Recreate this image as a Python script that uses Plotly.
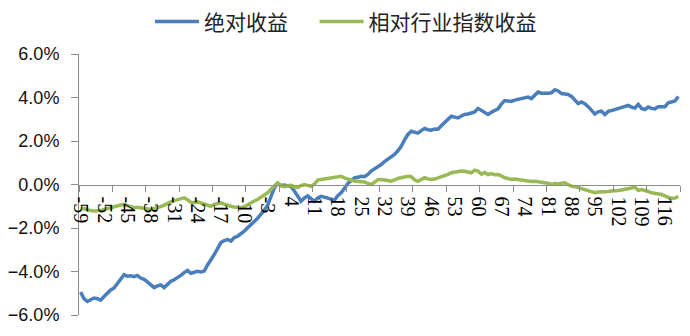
import plotly.graph_objects as go

days = list(range(-59, 121))

absolute_return = [
    -4.95, -5.25, -5.38, -5.32, -5.22, -5.25, -5.32, -5.15, -4.98, -4.85,
    -4.76, -4.55, -4.35, -4.15, -4.22, -4.20, -4.24, -4.18, -4.30, -4.36,
    -4.48, -4.60, -4.74, -4.66, -4.62, -4.74, -4.60, -4.45, -4.38, -4.30,
    -4.18, -4.05, -3.95, -4.08, -4.02, -3.99, -4.02, -3.98, -3.70, -3.48,
    -3.22, -2.95, -2.67, -2.58, -2.53, -2.60, -2.44, -2.38, -2.28, -2.15,
    -1.99, -1.82, -1.70, -1.55, -1.38, -1.18, -0.95, -0.50, -0.15, 0.05,
    -0.05, -0.02, -0.06, -0.10, -0.30, -0.55, -0.77, -0.62, -0.52, -0.65,
    -0.77, -0.62, -0.54, -0.58, -0.62, -0.66, -0.72, -0.52, -0.38, -0.18,
    0.05, 0.18, 0.30, 0.33, 0.38, 0.36, 0.46, 0.62, 0.72, 0.80,
    0.92, 1.05, 1.15, 1.26, 1.38, 1.55, 1.76, 2.05, 2.30, 2.45,
    2.42, 2.36, 2.48, 2.58, 2.52, 2.50, 2.55, 2.54, 2.70, 2.85,
    3.02, 3.14, 3.10, 3.06, 3.15, 3.22, 3.24, 3.30, 3.34, 3.50,
    3.40, 3.30, 3.22, 3.32, 3.42, 3.48, 3.70, 3.86, 3.84, 3.82,
    3.88, 3.92, 3.96, 3.98, 4.02, 3.95, 4.10, 4.25, 4.20, 4.18,
    4.20, 4.22, 4.36, 4.30, 4.18, 4.16, 4.14, 4.05, 3.88, 3.72,
    3.80, 3.72, 3.58, 3.38, 3.24, 3.34, 3.37, 3.22, 3.36, 3.40,
    3.45, 3.46, 3.53, 3.58, 3.64, 3.56, 3.52, 3.68, 3.50, 3.45,
    3.56, 3.50, 3.48, 3.58, 3.60, 3.58, 3.76, 3.82, 3.84, 4.05,
]

relative_return = [
    -1.07, -1.12, -1.15, -1.20, -1.22, -1.23, -1.20, -1.15, -1.10, -1.05,
    -1.00, -0.97, -0.94, -0.92, -0.98, -1.03, -1.07, -1.05, -1.08, -1.12,
    -1.13, -1.15, -1.10, -1.07, -1.02, -0.95, -0.86, -0.80, -0.74, -0.69,
    -0.64, -0.61, -0.70, -0.82, -0.84, -0.80, -0.85, -0.90, -0.95, -1.00,
    -0.92, -0.86, -0.84, -0.90, -0.96, -1.00, -1.03, -1.06, -1.07, -1.02,
    -0.92, -0.84, -0.76, -0.69, -0.58, -0.48, -0.38, -0.22, -0.05, 0.08,
    -0.05, -0.10, -0.06, -0.04, -0.12, -0.14, -0.05, 0.00, -0.04, -0.08,
    0.02, 0.20, 0.23, 0.25, 0.28, 0.30, 0.32, 0.36, 0.38, 0.30,
    0.23, 0.20, 0.16, 0.15, 0.14, 0.12, 0.05, 0.00, 0.10, 0.22,
    0.23, 0.22, 0.18, 0.15, 0.22, 0.28, 0.31, 0.34, 0.38, 0.36,
    0.22, 0.15, 0.25, 0.31, 0.26, 0.23, 0.25, 0.30, 0.34, 0.38,
    0.46, 0.54, 0.58, 0.61, 0.62, 0.61, 0.58, 0.54, 0.66, 0.62,
    0.48, 0.55, 0.46, 0.50, 0.45, 0.46, 0.40, 0.31, 0.28, 0.23,
    0.25, 0.23, 0.20, 0.15, 0.15, 0.14, 0.15, 0.13, 0.10, 0.08,
    0.06, 0.00, 0.04, 0.03, 0.06, 0.08, 0.00, -0.08, -0.10, -0.15,
    -0.20, -0.25, -0.30, -0.36, -0.38, -0.34, -0.32, -0.30, -0.32, -0.30,
    -0.30, -0.28, -0.25, -0.23, -0.20, -0.16, -0.12, -0.27, -0.23, -0.26,
    -0.32, -0.38, -0.40, -0.44, -0.46, -0.52, -0.60, -0.63, -0.62, -0.55,
]

series_names = ["绝对收益", "相对行业指数收益"]
label_days = list(range(-59, 121, 7))
y_ticks = [-0.06, -0.04, -0.02, 0.0, 0.02, 0.04, 0.06]

fig = go.Figure()
fig.add_trace(go.Scatter(
    x=days, y=[v / 100 for v in absolute_return], name=series_names[0],
    mode="lines", line=dict(color="#4A7EBB", width=3.5), legend="legend",
))
fig.add_trace(go.Scatter(
    x=days, y=[v / 100 for v in relative_return], name=series_names[1],
    mode="lines", line=dict(color="#98B954", width=3.5), legend="legend2",
))

axis_grey = "#8C8C8C"
legend_common = dict(
    orientation="h", xanchor="left",
    yref="container", y=0.935, yanchor="middle",
    font=dict(family="Noto Sans CJK SC", size=21, color="#222"),
    itemwidth=44, bgcolor="rgba(0,0,0,0)",
)
fig.update_layout(
    width=690, height=336,
    margin=dict(l=79, r=10, t=54, b=21, autoexpand=False),
    paper_bgcolor="white", plot_bgcolor="white",
    showlegend=True,
    legend=dict(x=0.118, **legend_common),
    legend2=dict(x=0.392, **legend_common),
    xaxis=dict(
        range=[-59.5, 120.5],
        anchor="free", position=0.5,
        showline=True, linecolor=axis_grey, linewidth=1,
        showgrid=False, zeroline=False,
        tickmode="array", tickvals=label_days, ticktext=[str(d) for d in label_days],
        ticks="", tickangle=90, ticklabelstandoff=7,
        tickfont=dict(family="Liberation Serif, 'Times New Roman', serif", size=20, color="#000"),
        minor=dict(tickmode="array", tickvals=[-59.5 + 10 * k for k in range(19)],
                   ticks="outside", ticklen=6, tickcolor=axis_grey, tickwidth=1),
    ),
    yaxis=dict(
        range=[-0.06, 0.06], domain=[0, 1],
        showline=True, linecolor=axis_grey, linewidth=1,
        showgrid=False, zeroline=False,
        tickmode="array", tickvals=y_ticks, tickformat=".1%",
        ticks="outside", ticklen=7, tickcolor=axis_grey,
        ticklabelstandoff=8,
        tickfont=dict(family="Liberation Sans", size=18, color="#111"),
    ),
)

fig.write_html("out.html")
